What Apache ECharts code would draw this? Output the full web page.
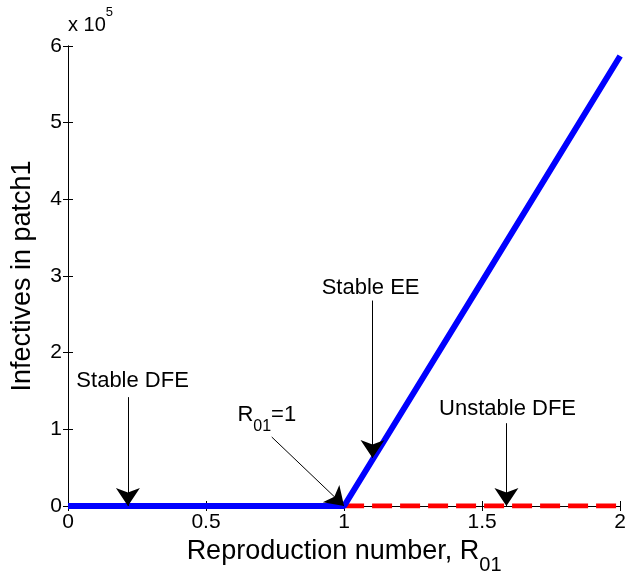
<!DOCTYPE html>
<html>
<head>
<meta charset="utf-8">
<script src="https://cdn.jsdelivr.net/npm/echarts@6/dist/echarts.min.js"></script>
<style>html,body{margin:0;padding:0;background:#fff}#c{width:629px;height:588px}</style>
</head>
<body>
<div id="c"></div>
<script>
// ---- data ----
var xTicks = [0, 0.5, 1, 1.5, 2];
var yTicks = [0, 100000, 200000, 300000, 400000, 500000, 600000];
var stableX = [0, 0.5, 1, 1.5, 2];
var stableY = [0, 0, 0, 293000, 587000];
var unstableX = [1, 2];
var unstableY = [0, 0];
var labelTexts = ['Stable DFE', '{n|R}{s|01}{n|=1}', 'Stable EE', 'Unstable DFE'];
var labelX = [0.234, 0.72, 1.096, 1.592];
var labelY = [163000, 113000, 285000, 126500];
var arrowFromX = [0.217, 0.738, 1.103, 1.588];
var arrowFromY = [142000, 90000, 268000, 108000];
var arrowToX = [0.217, 1.0, 1.103, 1.588];
var arrowToY = [0, 0, 62600, 0];

var FONT = '"Liberation Sans", Arial, sans-serif';
var chart = echarts.init(document.getElementById('c'));
function pairs(xs, ys) { return xs.map(function (x, i) { return [x, ys[i]]; }); }

var axisCommon = {
  type: 'value',
  axisLine: { show: true, lineStyle: { color: '#000', width: 1 } },
  axisTick: { show: true, inside: true, length: 5, lineStyle: { color: '#000' } },
  splitLine: { show: false }
};

chart.setOption({
  backgroundColor: '#fff',
  animation: false,
  grid: { left: 68, right: 8, top: 46, bottom: 82 },
  xAxis: [
    Object.assign({}, axisCommon, {
      min: xTicks[0], max: xTicks[xTicks.length - 1], interval: 0.5,
      axisLabel: { fontFamily: FONT, fontSize: 21, color: '#000', margin: 6 },
      name: '{n|Reproduction number, R}{s|01}',
      nameLocation: 'middle', nameGap: 30,
      nameTextStyle: {
        fontFamily: FONT, color: '#000',
        rich: {
          n: { fontFamily: FONT, fontSize: 27, color: '#000', verticalAlign: 'top' },
          s: { fontFamily: FONT, fontSize: 20, color: '#000', padding: [18, 0, 0, 0], verticalAlign: 'top' }
        }
      }
    }),
    Object.assign({}, axisCommon, {
      position: 'top', min: 0, max: 2, interval: 0.5,
      axisLabel: { show: false }
    })
  ],
  yAxis: [
    Object.assign({}, axisCommon, {
      min: yTicks[0], max: yTicks[yTicks.length - 1], interval: 100000,
      axisLabel: { fontFamily: FONT, fontSize: 21, color: '#000', margin: 6,
        formatter: function (v) { return String(v / 100000); } },
      name: 'Infectives in patch1', nameLocation: 'middle', nameGap: 32,
      nameTextStyle: { fontFamily: FONT, fontSize: 27, color: '#000' }
    }),
    Object.assign({}, axisCommon, {
      position: 'right', min: 0, max: 600000, interval: 100000,
      axisLabel: { show: false }
    })
  ],
  graphic: [{
    type: 'text', left: 68, top: 6,
    style: {
      text: '{n|x 10}{p|5}',
      rich: {
        n: { fontFamily: FONT, fontSize: 20, fill: '#000', padding: [9, 0, 0, 0] },
        p: { fontFamily: FONT, fontSize: 13, fill: '#000', verticalAlign: 'top' }
      }
    }
  }],
  series: [
    {
      type: 'line', data: pairs(unstableX, unstableY), showSymbol: false, z: 3,
      lineStyle: { color: '#ff0000', width: 5, type: [20, 8], cap: 'butt' }
    },
    {
      type: 'line', data: pairs(stableX, stableY), showSymbol: false, z: 4,
      lineStyle: { color: '#0000ff', width: 6 }
    },
    {
      type: 'lines', coordinateSystem: 'cartesian2d', z: 6,
      symbol: ['none', 'arrow'], symbolSize: [15, 18],
      lineStyle: { color: '#000', width: 1, opacity: 1 },
      itemStyle: { color: '#000', opacity: 1 },
      data: arrowFromX.map(function (x, i) {
        return { coords: [[x, arrowFromY[i]], [arrowToX[i], arrowToY[i]]] };
      })
    },
    {
      type: 'scatter', symbolSize: 0, z: 7,
      itemStyle: { opacity: 1, color: '#000' },
      data: labelX.map(function (x, i) { return { value: [x, labelY[i]], name: labelTexts[i] }; }),
      label: {
        show: true, position: [0, 0], align: 'center', verticalAlign: 'middle',
        formatter: function (p) { return p.name; },
        fontFamily: FONT, fontSize: 22, color: '#000', opacity: 1, textBorderWidth: 0,
        rich: {
          n: { fontFamily: FONT, fontSize: 22, color: '#000', verticalAlign: 'top' },
          s: { fontFamily: FONT, fontSize: 16, color: '#000', padding: [14, 0, 0, 0], verticalAlign: 'top' }
        }
      }
    }
  ]
});
</script>
</body>
</html>
